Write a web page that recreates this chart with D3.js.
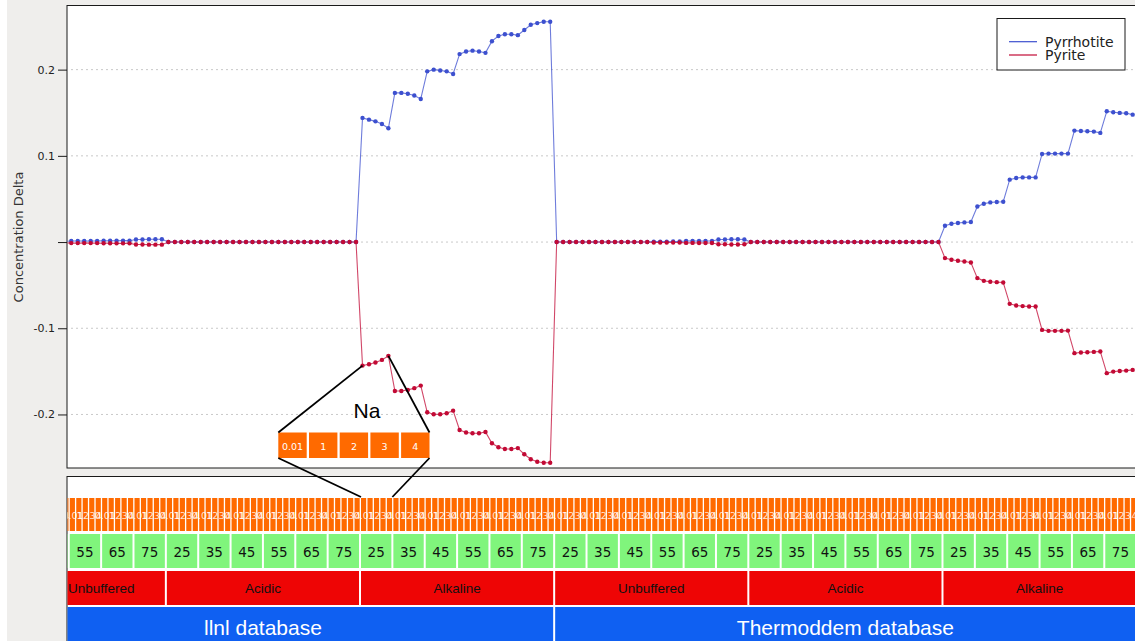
<!DOCTYPE html>
<html>
<head>
<meta charset="utf-8">
<script src="https://cdn.jsdelivr.net/npm/d3@7"></script>
<style>
  html, body { margin: 0; padding: 0; background: #fff; }
  svg { display: block; }
</style>
</head>
<body>
<div id="chart"></div>
<script>
// categories of the run matrix: database x buffer x temperature x Na
const databases = ['llnl database', 'Thermoddem database'];
const buffers = ['Unbuffered', 'Acidic', 'Alkaline'];
const temperatures = ['25', '35', '45', '55', '65', '75'];
const naLevels = ['0.01', '1', '2', '3', '4'];
const yTicks = [-0.2, -0.1, 0, 0.1, 0.2];
const seriesNames = ['Pyrrhotite', 'Pyrite'];

// runs 0..13 are scrolled off to the left of the view
const firstRun = 14;

// Pyrrhotite, runs 14..179
const pyrrhotite = [
  0.0008,
  0.0012, 0.0012, 0.0012, 0.0012, 0.0012,
  0.0015, 0.0015, 0.0015, 0.0016, 0.0016,
  0.003, 0.003, 0.0032, 0.0032, 0.0032,
  0, 0, 0, 0, 0, 0, 0, 0, 0, 0, 0, 0, 0, 0, 0,
  0, 0, 0, 0, 0, 0, 0, 0, 0, 0, 0, 0, 0, 0, 0,
  0.144, 0.142, 0.140, 0.137, 0.132,
  0.173, 0.173, 0.172, 0.170, 0.166,
  0.198, 0.200, 0.199, 0.198, 0.195,
  0.218, 0.221, 0.222, 0.221, 0.2195,
  0.233, 0.239, 0.241, 0.241, 0.240,
  0.246, 0.252, 0.254, 0.2555, 0.2555,
  0, 0, 0, 0, 0, 0, 0, 0, 0, 0, 0, 0, 0, 0, 0,
  0.0005, 0.0005, 0.0005, 0.0006, 0.0006,
  0.0012, 0.0012, 0.0013, 0.0013, 0.0013,
  0.003, 0.003, 0.0032, 0.0032, 0.003,
  0, 0, 0, 0, 0, 0, 0, 0, 0, 0, 0, 0, 0, 0, 0,
  0, 0, 0, 0, 0, 0, 0, 0, 0, 0, 0, 0, 0, 0, 0,
  0.0189, 0.0213, 0.0221, 0.0228, 0.0232,
  0.0413, 0.0445, 0.046, 0.0465, 0.0468,
  0.0724, 0.0743, 0.075, 0.075, 0.075,
  0.1022, 0.1026, 0.1026, 0.1026, 0.1026,
  0.1293, 0.1289, 0.1285, 0.1281, 0.1266,
  0.1517, 0.1505, 0.1498, 0.1494, 0.1478
];

// Pyrite, runs 14..179
const pyrite = [
  -0.0008,
  -0.0012, -0.0012, -0.0012, -0.0012, -0.0012,
  -0.0014, -0.0014, -0.0015, -0.0015, -0.0015,
  -0.0028, -0.0028, -0.003, -0.003, -0.003,
  0, 0, 0, 0, 0, 0, 0, 0, 0, 0, 0, 0, 0, 0, 0,
  0, 0, 0, 0, 0, 0, 0, 0, 0, 0, 0, 0, 0, 0, 0,
  -0.1433, -0.1417, -0.1398, -0.1367, -0.132,
  -0.1727, -0.1727, -0.1715, -0.1695, -0.1665,
  -0.1975, -0.1998, -0.1998, -0.1986, -0.1956,
  -0.218, -0.221, -0.2218, -0.2218, -0.2203,
  -0.2334, -0.238, -0.240, -0.240, -0.239,
  -0.2462, -0.252, -0.2548, -0.256, -0.256,
  0, 0, 0, 0, 0, 0, 0, 0, 0, 0, 0, 0, 0, 0, 0,
  -0.0005, -0.0005, -0.0005, -0.0005, -0.0005,
  -0.001, -0.001, -0.0011, -0.0011, -0.0011,
  -0.0026, -0.0026, -0.0028, -0.0028, -0.0026,
  0, 0, 0, 0, 0, 0, 0, 0, 0, 0, 0, 0, 0, 0, 0,
  0, 0, 0, 0, 0, 0, 0, 0, 0, 0, 0, 0, 0, 0, 0,
  -0.0186, -0.0206, -0.0217, -0.0225, -0.0237,
  -0.0418, -0.045, -0.0461, -0.0465, -0.0469,
  -0.0717, -0.0736, -0.0743, -0.0748, -0.0748,
  -0.1019, -0.103, -0.103, -0.103, -0.1027,
  -0.1289, -0.1282, -0.1278, -0.1274, -0.127,
  -0.1521, -0.1503, -0.1495, -0.1491, -0.1483
];

const W = 1135, H = 641;
const PLOT = { LEFT: 67, TOP: 5.5, BOTTOM: 468, RIGHT: 1135 };
const STRIP_TOP = 476.5;
const COLORS = { Pyrrhotite: '#3d50cf', Pyrite: '#c20a35' };

const nRuns = databases.length * buffers.length * temperatures.length * naLevels.length;

const svg = d3.select('#chart').append('svg')
  .attr('width', W).attr('height', H);

svg.append('rect').attr('width', W).attr('height', H).attr('fill', '#fff');
svg.append('rect').attr('x', 7).attr('width', W - 7).attr('height', H).attr('fill', '#efeeec');

// x: run index (zoomed window), y: concentration delta
const x = d3.scaleLinear().domain([14.34, 179.36]).range([PLOT.LEFT, PLOT.RIGHT]);
const y = d3.scaleLinear().domain([-0.2621, 0.2744]).range([PLOT.BOTTOM, PLOT.TOP]);
const pitch = x(1) - x(0);
const slotLeft = (i) => x(i) - 1.5;

// --- upper plot
svg.append('rect')
  .attr('x', PLOT.LEFT).attr('y', PLOT.TOP)
  .attr('width', PLOT.RIGHT - PLOT.LEFT + 5).attr('height', PLOT.BOTTOM - PLOT.TOP)
  .attr('fill', '#fff').attr('stroke', '#1a1a1a').attr('stroke-width', 1);

const defs = svg.append('defs');
defs.append('clipPath').attr('id', 'plot-clip').append('rect')
  .attr('x', PLOT.LEFT + 0.5).attr('y', PLOT.TOP + 0.5)
  .attr('width', PLOT.RIGHT - PLOT.LEFT).attr('height', PLOT.BOTTOM - PLOT.TOP - 1);
defs.append('clipPath').attr('id', 'strip-clip').append('rect')
  .attr('x', PLOT.LEFT + 0.5).attr('y', STRIP_TOP + 0.5)
  .attr('width', PLOT.RIGHT - PLOT.LEFT).attr('height', H - STRIP_TOP);

svg.append('g')
  .selectAll('line')
  .data(yTicks)
  .join('line')
  .attr('x1', PLOT.LEFT + 4).attr('x2', PLOT.RIGHT)
  .attr('y1', (d) => y(d)).attr('y2', (d) => y(d))
  .attr('stroke', '#c9c9c9').attr('stroke-dasharray', '2,3');

const yAxis = svg.append('g')
  .attr('transform', `translate(${PLOT.LEFT}, 0)`)
  .call(d3.axisLeft(y).tickValues(yTicks).tickSize(9).tickPadding(3)
    .tickFormat((d) => (d === 0 ? '' : String(d))));
yAxis.select('.domain').remove();
yAxis.selectAll('.tick line').attr('stroke', '#1a1a1a');
yAxis.selectAll('.tick text')
  .attr('font-family', 'DejaVu Sans').attr('font-size', 11).attr('fill', '#222');

svg.append('text')
  .attr('transform', 'translate(23, 237) rotate(-90)')
  .attr('text-anchor', 'middle')
  .attr('font-family', 'DejaVu Sans').attr('font-size', 13).attr('fill', '#333')
  .text('Concentration Delta');

const series = [
  { name: seriesNames[0], values: pyrrhotite.map((v, k) => ({ i: firstRun + k, v })) },
  { name: seriesNames[1], values: pyrite.map((v, k) => ({ i: firstRun + k, v })) }
];

const line = d3.line().x((d) => x(d.i)).y((d) => y(d.v));

const plotG = svg.append('g').attr('clip-path', 'url(#plot-clip)');
series.forEach((s) => {
  plotG.append('path')
    .datum(s.values)
    .attr('d', line)
    .attr('fill', 'none')
    .attr('stroke', COLORS[s.name])
    .attr('stroke-width', 1.1)
    .attr('stroke-opacity', 0.75);
});
series.forEach((s) => {
  plotG.append('g')
    .selectAll('circle')
    .data(s.values)
    .join('circle')
    .attr('cx', (d) => x(d.i))
    .attr('cy', (d) => y(d.v))
    .attr('r', 2.2)
    .attr('fill', COLORS[s.name]);
});

// legend
const legend = svg.append('g').attr('transform', 'translate(997, 18.5)');
legend.append('rect').attr('width', 128).attr('height', 51.5)
  .attr('fill', '#fff').attr('stroke', '#1a1a1a');
seriesNames.forEach((name, k) => {
  legend.append('line')
    .attr('x1', 12).attr('x2', 40)
    .attr('y1', 23.2 + k * 13.3).attr('y2', 23.2 + k * 13.3)
    .attr('stroke', COLORS[name]).attr('stroke-width', 1.2);
  legend.append('text')
    .attr('x', 48).attr('y', 28 + k * 13.3)
    .attr('font-family', 'DejaVu Sans').attr('font-size', 14).attr('fill', '#222')
    .text(name);
});

// --- lower category strip
svg.append('rect')
  .attr('x', PLOT.LEFT).attr('y', STRIP_TOP)
  .attr('width', PLOT.RIGHT - PLOT.LEFT + 5).attr('height', H - STRIP_TOP + 5)
  .attr('fill', '#fff').attr('stroke', '#1a1a1a');

const strip = svg.append('g').attr('clip-path', 'url(#strip-clip)');

const runs = d3.range(nRuns);
const naG = strip.append('g');
naG.selectAll('rect')
  .data(runs)
  .join('rect')
  .attr('x', (i) => slotLeft(i))
  .attr('y', 498)
  .attr('width', pitch - 1.3)
  .attr('height', 33)
  .attr('fill', '#ff6a00');
naG.selectAll('text')
  .data(runs)
  .join('text')
  .attr('x', (i) => slotLeft(i) + pitch / 2)
  .attr('y', 519)
  .attr('text-anchor', 'middle')
  .attr('font-family', 'DejaVu Sans').attr('font-size', 9.5)
  .attr('fill', '#fff').attr('fill-opacity', 0.85)
  .text((i) => naLevels[i % naLevels.length]);

const nT = naLevels.length;
const tempIdx = d3.range(nRuns / nT);
const tG = strip.append('g');
tG.selectAll('rect')
  .data(tempIdx)
  .join('rect')
  .attr('x', (k) => slotLeft(k * nT))
  .attr('y', 534)
  .attr('width', pitch * nT - 2)
  .attr('height', 34)
  .attr('fill', '#80f57c');
tG.selectAll('text')
  .data(tempIdx)
  .join('text')
  .attr('x', (k) => slotLeft(k * nT) + (pitch * nT - 2) / 2)
  .attr('y', 557)
  .attr('text-anchor', 'middle')
  .attr('font-family', 'DejaVu Sans').attr('font-size', 13.5).attr('fill', '#111')
  .text((k) => temperatures[k % temperatures.length]);

// label centred in its box, but kept inside the visible window
function placeLabels(g, n, span, top, h, fill, font, size, color, names) {
  const idx = d3.range(nRuns / span);
  g.selectAll('rect')
    .data(idx)
    .join('rect')
    .attr('x', (k) => slotLeft(k * span))
    .attr('y', top)
    .attr('width', pitch * span - 2)
    .attr('height', h)
    .attr('fill', fill);
  g.selectAll('text')
    .data(idx)
    .join('text')
    .attr('y', top + h / 2)
    .attr('dy', '0.36em')
    .attr('text-anchor', 'middle')
    .attr('font-family', font).attr('font-size', size).attr('fill', color)
    .text((k) => names[k % n])
    .attr('x', function (k) {
      const w = this.getComputedTextLength();
      const l = Math.max(slotLeft(k * span), PLOT.LEFT);
      const r = Math.min(slotLeft((k + 1) * span) - 2, PLOT.RIGHT);
      let cx = slotLeft(k * span) + (pitch * span - 2) / 2;
      cx = Math.max(cx, l + w / 2 + 1);
      cx = Math.min(cx, r - w / 2 - 1);
      return cx;
    });
}

const bSpan = nT * temperatures.length;
placeLabels(strip.append('g'), buffers.length, bSpan, 571, 34,
  '#ee0505', 'Liberation Sans', 13.5, '#111', buffers);
placeLabels(strip.append('g'), databases.length, bSpan * buffers.length, 607, 40,
  '#0f60f2', 'Liberation Sans', 21, '#fff', databases);

// --- Na zoom-in annotation
const inset = d3.scaleBand().domain(naLevels).range([278.3, 429.5]).paddingInner(0.075);
const insetTop = 432.5, insetH = 25.5;
const ann = svg.append('g');
ann.selectAll('rect')
  .data(naLevels)
  .join('rect')
  .attr('x', (d) => inset(d))
  .attr('y', insetTop)
  .attr('width', inset.bandwidth())
  .attr('height', insetH)
  .attr('fill', '#ff6a00');
ann.selectAll('text.na')
  .data(naLevels)
  .join('text')
  .attr('class', 'na')
  .attr('x', (d) => inset(d) + inset.bandwidth() / 2)
  .attr('y', 450)
  .attr('text-anchor', 'middle')
  .attr('font-family', 'DejaVu Sans').attr('font-size', 9.5).attr('fill', '#fff')
  .text((d) => d);
ann.append('text')
  .attr('x', 367).attr('y', 418)
  .attr('text-anchor', 'middle')
  .attr('font-family', 'Liberation Sans').attr('font-size', 21).attr('fill', '#000')
  .text('Na');

// first alkaline llnl block (runs 60..64)
const zoomFirst = 60, zoomLast = 64;
const insetL = inset(naLevels[0]);
const insetR = inset(naLevels[naLevels.length - 1]) + inset.bandwidth();
const conn = [
  [insetL, insetTop, x(zoomFirst), y(pyrite[zoomFirst - firstRun])],
  [insetR, insetTop, x(zoomLast), y(pyrite[zoomLast - firstRun])],
  [insetL, insetTop + insetH, slotLeft(zoomFirst), 497],
  [insetR, insetTop + insetH, slotLeft(zoomLast + 1) - 1, 497]
];
ann.selectAll('line')
  .data(conn)
  .join('line')
  .attr('x1', (d) => d[0]).attr('y1', (d) => d[1])
  .attr('x2', (d) => d[2]).attr('y2', (d) => d[3])
  .attr('stroke', '#000').attr('stroke-width', 1.8);
</script>
</body>
</html>
